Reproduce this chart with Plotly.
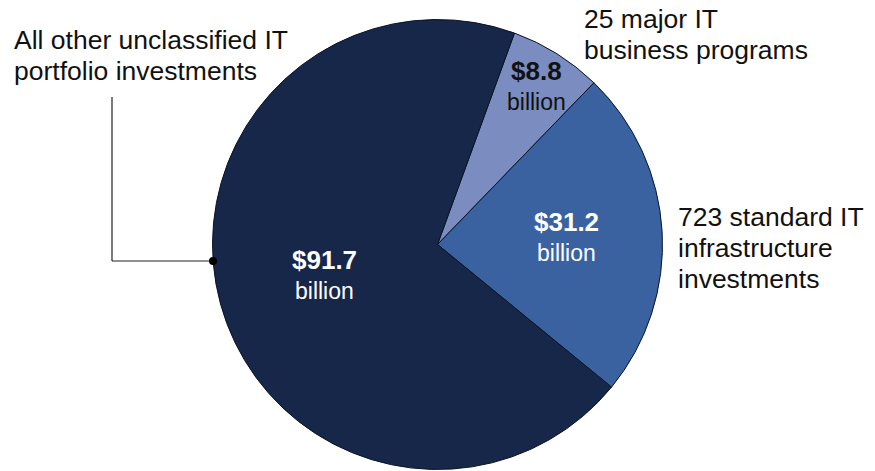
import math
import plotly.graph_objects as go

# Data
categories = ["25 major IT business programs",
              "723 standard IT infrastructure investments",
              "All other unclassified IT portfolio investments"]
values = [8.8, 31.2, 91.7]  # $ billions
value_labels = ["$8.8", "$31.2", "$91.7"]
unit_label = "billion"
outside_lines = [["25 major IT", "business programs"],
                 ["723 standard IT", "infrastructure", "investments"],
                 ["All other unclassified IT", "portfolio investments"]]

# Style
W, H = 875, 471
colors = ["#7A8CC0", "#3A62A0", "#172749"]
text_colors = ["#111111", "#FFFFFF", "#FFFFFF"]
rotation = 20
cx, cy, R = 437.5, 244.5, 225.0
label_r_frac = [0.83, 0.573, 0.52]
font_family = "Liberation Sans, Arial, sans-serif"

def px(x):
    return x / W

def py(y):
    return 1 - y / H

fig = go.Figure(go.Pie(
    labels=categories, values=values, sort=False, direction="clockwise",
    rotation=rotation, textinfo="none", hoverinfo="label+value",
    marker=dict(colors=colors, line=dict(color="#0b1426", width=1)),
    domain=dict(x=[px(cx - R), px(cx + R)], y=[py(cy + R), py(cy - R)]),
    showlegend=False,
))

annotations = []
total = sum(values)
start = rotation
for i, v in enumerate(values):
    span = v / total * 360
    mid = math.radians(start + span / 2)
    start += span
    r = R * label_r_frac[i]
    lx = cx + r * math.sin(mid)
    ly = cy - r * math.cos(mid)
    annotations.append(dict(x=px(lx), y=py(ly - 15), xref="paper", yref="paper",
                            text="<b>" + value_labels[i] + "</b>", showarrow=False,
                            xanchor="center", yanchor="middle",
                            font=dict(family=font_family, size=26, color=text_colors[i])))
    annotations.append(dict(x=px(lx), y=py(ly + 16), xref="paper", yref="paper",
                            text=unit_label, showarrow=False,
                            xanchor="center", yanchor="middle",
                            font=dict(family=font_family, size=23, color=text_colors[i])))

# outside labels (line centers in px)
outside_pos = [(582, [19, 50]), (676, [217, 248, 279]), (12, [40, 71])]
for lines, (x0, ys) in zip(outside_lines, outside_pos):
    for t, yy in zip(lines, ys):
        annotations.append(dict(x=px(x0), y=py(yy), xref="paper", yref="paper",
                                text=t, showarrow=False, xanchor="left", yanchor="middle",
                                font=dict(family=font_family, size=26.5, color="#111111")))

shapes = [
    dict(type="line", xref="paper", yref="paper", x0=px(112), y0=py(97), x1=px(112), y1=py(261),
         line=dict(color="#222222", width=1.2)),
    dict(type="line", xref="paper", yref="paper", x0=px(112), y0=py(261), x1=px(213), y1=py(261),
         line=dict(color="#222222", width=1.2)),
    dict(type="circle", xref="paper", yref="paper", x0=px(209), y0=py(257), x1=px(217), y1=py(265),
         fillcolor="#000000", line=dict(color="#000000", width=0)),
]

fig.update_layout(width=W, height=H, margin=dict(l=0, r=0, t=0, b=0),
                  paper_bgcolor="white", plot_bgcolor="white",
                  annotations=annotations, shapes=shapes)

fig.write_html("out.html", config={"displayModeBar": False},
               post_script="document.body.style.margin='0px';document.body.style.overflow='hidden';")
